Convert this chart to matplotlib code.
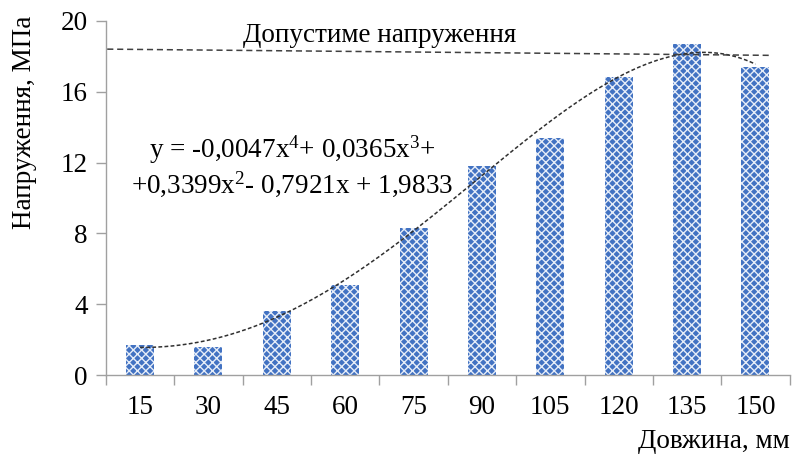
import numpy as np
import matplotlib
matplotlib.use("Agg")
import matplotlib.pyplot as plt

plt.rcParams['font.family'] = ['Liberation Serif', 'DejaVu Serif']
plt.rcParams['mathtext.fontset'] = 'custom'
plt.rcParams['mathtext.rm'] = 'Liberation Serif'
plt.rcParams['mathtext.it'] = 'Liberation Serif'
plt.rcParams['hatch.linewidth'] = 1.0

lengths = ['15', '30', '45', '60', '75', '90', '105', '120', '135', '150']
stress = [1.7, 1.6, 3.6, 5.1, 8.3, 11.8, 13.4, 16.85, 18.7, 17.4]
poly_coeffs = [-0.0047, 0.0365, 0.3399, -0.7921, 1.9833]
allowable_start, allowable_end = 18.4, 18.05
yticks = [0, 4, 8, 12, 16, 20]

fs = 19.5

fig = plt.figure(figsize=(7.96, 4.62), dpi=100)
ax = fig.add_axes([0.133, 0.188, 0.859, 0.767])

x = np.arange(1, len(lengths) + 1)
ax.bar(x, stress, width=0.41, color='#4272c2', edgecolor='#e6edf8', linewidth=0,
       hatch='xxxx', zorder=2)

# polynomial trendline over category index
xs = np.linspace(1, len(lengths), 300)
ax.plot(xs, np.polyval(poly_coeffs, xs), color='#303030', lw=1.1,
        linestyle=(0, (2.5, 1.5)), zorder=3)

# allowable stress line
ax.plot([0.52, 10.2], [allowable_start, allowable_end], color='#404040', lw=1.1,
        linestyle=(0, (4, 2.5)), zorder=3)

ax.set_xlim(0.5, 10.5)
ax.set_ylim(0, 20)
ax.set_yticks(yticks)
ax.set_xticks(x)
ax.set_xticklabels(lengths)
ax.set_xticks(np.arange(0.5, 11, 1), minor=True)
ax.tick_params(axis='x', which='major', length=0, pad=14, labelsize=fs)
ax.tick_params(axis='x', which='minor', length=7, color='#a0a0a0', width=1)
ax.tick_params(axis='y', length=7, color='#a0a0a0', width=1, labelsize=fs, pad=6)

for s in ['top', 'right']:
    ax.spines[s].set_visible(False)
for s in ['left', 'bottom']:
    ax.spines[s].set_color('#a0a0a0')
    ax.spines[s].set_linewidth(1)

ax.text(0.5 * (243 + 517) / 796, 1 - 36 / 462, 'Допустиме напруження',
        transform=fig.transFigure, ha='center', va='center', fontsize=fs)

ax.text(292 / 796, 1 - 150 / 462, r'y = -0,0047x$^{4}$+ 0,0365x$^{3}$+',
        transform=fig.transFigure, ha='center', va='center', fontsize=fs)
ax.text(292 / 796, 1 - 184 / 462, r'+0,3399x$^{2}$- 0,7921x + 1,9833',
        transform=fig.transFigure, ha='center', va='center', fontsize=fs)

fig.text(25 / 796, 1 - 122 / 462, 'Напруження, МПа', rotation=90,
         ha='center', va='center', fontsize=fs)
fig.text(790 / 796, 1 - 441 / 462, 'Довжина, мм', ha='right', va='center',
         fontsize=fs)

fig.savefig('out.png', dpi=100)
